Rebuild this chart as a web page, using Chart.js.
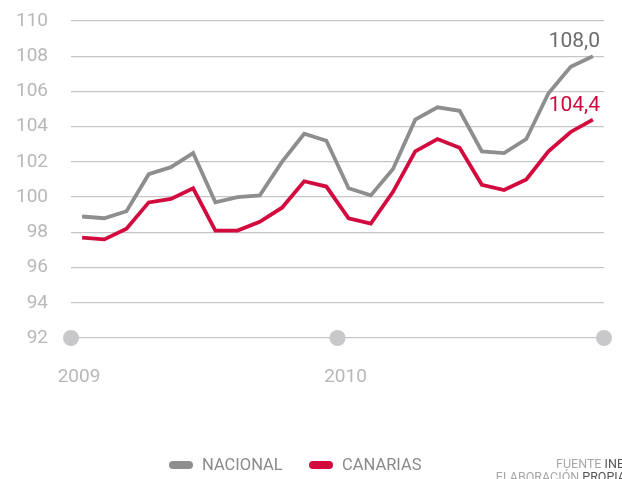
<!DOCTYPE html>
<html>
<head>
<meta charset="utf-8">
<script src="https://cdn.jsdelivr.net/npm/chart.js@4/dist/chart.umd.min.js"></script>
<style>
  html, body { margin: 0; padding: 0; background: #fff; }
  #wrap { width: 622px; height: 479px; }
</style>
</head>
<body>
<div id="wrap"><canvas id="chartCanvas" width="622" height="479"></canvas></div>
<script>
// meses ene 2009 - dic 2010
const months = ["ene 09","feb 09","mar 09","abr 09","may 09","jun 09","jul 09","ago 09","sep 09","oct 09","nov 09","dic 09",
                "ene 10","feb 10","mar 10","abr 10","may 10","jun 10","jul 10","ago 10","sep 10","oct 10","nov 10","dic 10"];
const nacional = [98.9,98.8,99.2,101.3,101.7,102.5,99.7,100.0,100.1,102.0,103.6,103.2,
                  100.5,100.1,101.6,104.4,105.1,104.9,102.6,102.5,103.3,105.9,107.4,108.0];
const canarias = [97.7,97.6,98.2,99.7,99.9,100.5,98.1,98.1,98.6,99.4,100.9,100.6,
                  98.8,98.5,100.3,102.6,103.3,102.8,100.7,100.4,101.0,102.6,103.7,104.4];
const yearLabels = ["2009", "2010", ""];
const yTicks = [92, 94, 96, 98, 100, 102, 104, 106, 108, 110];

const GRAY = "#8e8e90";
const RED = "#d20a3e";
const FONT = "Roboto, 'DejaVu Sans', sans-serif";

function toPoints(arr) {
    return arr.map((v, i) => ({ x: i + 0.5, y: v }));
}

const extras = {
    id: "extras",
    afterDraw(chart) {
        const ctx = chart.ctx;
        const x = chart.scales.x;
        const y = chart.scales.y;
        ctx.save();
        // circulos de los años sobre la base
        ctx.fillStyle = "#c8c8ca";
        [0, 12, 24].forEach(v => {
            ctx.beginPath();
            ctx.arc(x.getPixelForValue(v), y.getPixelForValue(92), 8, 0, Math.PI * 2);
            ctx.fill();
        });
        // etiquetas finales
        ctx.font = "21px " + FONT;
        ctx.textAlign = "right";
        ctx.textBaseline = "middle";
        [[nacional, "#6b6b6d"], [canarias, RED]].forEach(([arr, col]) => {
            const last = arr[arr.length - 1];
            const py = y.getPixelForValue(last);
            ctx.fillStyle = col;
            ctx.fillText(last.toFixed(1).replace(".", ","), 600, py - 14);
        });
        // leyenda
        ctx.font = "16.5px " + FONT;
        ctx.textAlign = "left";
        const items = [["NACIONAL", GRAY, 169], ["CANARIAS", RED, 309]];
        items.forEach(([txt, col, lx]) => {
            ctx.fillStyle = col;
            ctx.beginPath();
            ctx.roundRect(lx, 461, 24, 8, 4);
            ctx.fill();
            ctx.fillStyle = "#8a8a8c";
            ctx.fillText(txt, lx + 33, 466);
        });
        // fuente
        ctx.font = "12.5px " + FONT;
        ctx.textAlign = "right";
        ctx.fillStyle = "#555";
        ctx.fillText("INE", 624, 465);
        let w = ctx.measureText(" INE").width;
        ctx.fillStyle = "#a8a8aa";
        ctx.fillText("FUENTE", 624 - w, 465);
        ctx.fillStyle = "#555";
        ctx.fillText("PROPIA", 626, 478);
        w = ctx.measureText(" PROPIA").width;
        ctx.fillStyle = "#a8a8aa";
        ctx.fillText("ELABORACIÓN", 626 - w, 478);
        ctx.restore();
    }
};

function noPad(s) {
    s.paddingTop = 0; s.paddingBottom = 0; s.paddingLeft = 0; s.paddingRight = 0;
}

const chart = new Chart(document.getElementById("chartCanvas"), {
    type: "line",
    data: {
        labels: months,
        datasets: [
            { label: "NACIONAL", data: toPoints(nacional), borderColor: GRAY, borderWidth: 3.8, pointRadius: 0, pointHoverRadius: 0, tension: 0 },
            { label: "CANARIAS", data: toPoints(canarias), borderColor: RED, borderWidth: 3.8, pointRadius: 0, pointHoverRadius: 0, tension: 0 }
        ]
    },
    options: {
        responsive: false,
        animation: false,
        layout: { autoPadding: false, padding: { left: 0, right: 18, top: 21, bottom: 0 } },
        plugins: { legend: { display: false }, tooltip: { enabled: false } },
        scales: {
            x: {
                type: "linear",
                min: 0,
                max: 24,
                afterBuildTicks: s => { s.ticks = [0, 12, 24].map(v => ({ value: v })); },
                afterFit: s => { s.height = 141; noPad(s); },
                grid: { display: false, drawTicks: false },
                border: { display: false },
                ticks: {
                    padding: 28,
                    labelOffset: 8,
                    color: "#b8b8bc",
                    font: { family: FONT, size: 19 },
                    maxRotation: 0,
                    callback: v => yearLabels[v / 12]
                }
            },
            y: {
                min: 92,
                max: 110,
                afterBuildTicks: s => { s.ticks = yTicks.map(v => ({ value: v })); },
                afterFit: s => { s.width = 71; noPad(s); },
                grid: { color: "#c6c6c8", lineWidth: 1.3, drawTicks: false },
                border: { display: false },
                ticks: {
                    padding: 23,
                    color: "#b8b8bc",
                    font: { family: FONT, size: 19 }
                }
            }
        }
    },
    plugins: [extras]
});
</script>
</body>
</html>
